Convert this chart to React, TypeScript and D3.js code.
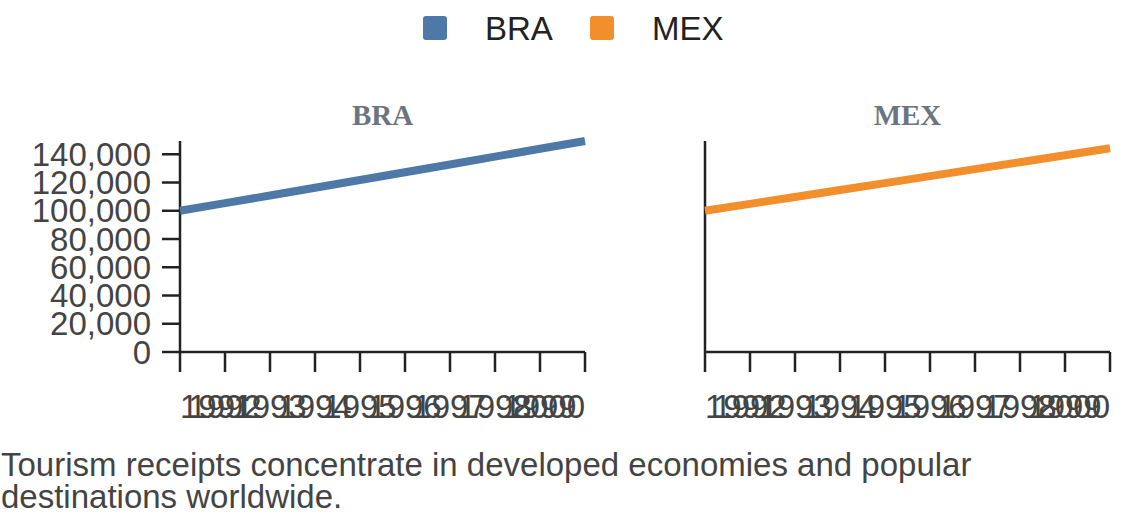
import React, { useEffect, useRef } from 'react';
import * as d3 from 'd3';

const years = [1991, 1992, 1993, 1994, 1995, 1996, 1997, 1998, 1999, 2000];
const countries = ['BRA', 'MEX'];
const braValues = [100000, 105400, 110800, 116300, 121800, 127300, 132800, 138300, 143900, 149400];
const mexValues = [100000, 104900, 109800, 114700, 119600, 124500, 129500, 134400, 139300, 144300];
const colors = ['#4e79a7', '#f28e2b'];
const yTicks = [0, 20000, 40000, 60000, 80000, 100000, 120000, 140000];
const captionLines = [
  'Tourism receipts concentrate in developed economies and popular',
  'destinations worldwide.',
];

const App: React.FC = () => {
  const svgRef = useRef<SVGSVGElement>(null);

  useEffect(() => {
    if (!svgRef.current) return;
    const svg = d3.select(svgRef.current);
    svg.selectAll('*').remove();

    const font = 'Arial, "Liberation Sans", Helvetica, sans-serif';
    const series = [braValues, mexValues];
    const panelLeft = [180, 705];
    const panelWidth = 405;
    const top = 141;
    const bottom = 352;

    const yMax = d3.max(series.flat()) as number;
    const y = d3.scaleLinear().domain([0, yMax]).range([bottom, top]);

    // Legend
    const legend = svg.append('g').attr('transform', 'translate(423,16)');
    countries.forEach((c, i) => {
      const g = legend.append('g').attr('transform', `translate(${i * 167},0)`);
      g.append('rect')
        .attr('width', 24)
        .attr('height', 24)
        .attr('rx', 3)
        .attr('fill', colors[i]);
      g.append('text')
        .attr('x', 62)
        .attr('y', 12)
        .attr('dy', '0.35em')
        .attr('font-family', font)
        .attr('font-size', 33)
        .attr('fill', '#222')
        .text(c);
    });

    countries.forEach((c, i) => {
      const x0 = panelLeft[i];
      const x = d3.scaleLinear()
        .domain(d3.extent(years) as [number, number])
        .range([x0, x0 + panelWidth]);
      const g = svg.append('g');

      // Panel title
      g.append('text')
        .attr('x', x0 + panelWidth / 2)
        .attr('y', 125)
        .attr('text-anchor', 'middle')
        .attr('font-family', '"Liberation Serif", "Times New Roman", serif')
        .attr('font-weight', 'bold')
        .attr('font-size', 29)
        .attr('fill', '#6b7480')
        .text(c);

      // Y axis
      g.append('line')
        .attr('x1', x0).attr('x2', x0)
        .attr('y1', top).attr('y2', bottom)
        .attr('stroke', '#222').attr('stroke-width', 2.5);
      if (i === 0) {
        yTicks.forEach(t => {
          g.append('line')
            .attr('x1', x0 - 18).attr('x2', x0)
            .attr('y1', y(t)).attr('y2', y(t))
            .attr('stroke', '#222').attr('stroke-width', 2.5);
          g.append('text')
            .attr('x', x0 - 29)
            .attr('y', y(t))
            .attr('dy', '0.35em')
            .attr('text-anchor', 'end')
            .attr('font-family', font)
            .attr('font-size', 33)
            .attr('fill', '#444')
            .text(d3.format(',')(t));
        });
      }

      // X axis
      g.append('line')
        .attr('x1', x0).attr('x2', x0 + panelWidth)
        .attr('y1', bottom).attr('y2', bottom)
        .attr('stroke', '#222').attr('stroke-width', 2.5);
      years.forEach((yr, k) => {
        g.append('line')
          .attr('x1', x(yr)).attr('x2', x(yr))
          .attr('y1', bottom).attr('y2', bottom + 20)
          .attr('stroke', '#222').attr('stroke-width', 2.5);
        g.append('text')
          .attr('x', x(yr))
          .attr('y', 418)
          .attr('text-anchor', k === 0 ? 'start' : k === years.length - 1 ? 'end' : 'middle')
          .attr('font-family', font)
          .attr('font-size', 33)
          .attr('fill', '#444')
          .text(String(yr));
      });

      // Line
      const line = d3.line<number>()
        .x((_, k) => x(years[k]))
        .y(v => y(v));
      g.append('path')
        .datum(series[i])
        .attr('fill', 'none')
        .attr('stroke', colors[i])
        .attr('stroke-width', 8)
        .attr('d', line);
    });

    // Caption
    captionLines.forEach((t, k) => {
      svg.append('text')
        .attr('x', 1)
        .attr('y', 476 + k * 32)
        .attr('font-family', font)
        .attr('font-size', 33)
        .attr('fill', '#444')
        .text(t);
    });
  }, []);

  return (
    <div style={{ position: 'absolute', left: 0, top: 0 }}>
      <svg ref={svgRef} width={1140} height={528} style={{ display: 'block' }} />
    </div>
  );
};

export default App;
